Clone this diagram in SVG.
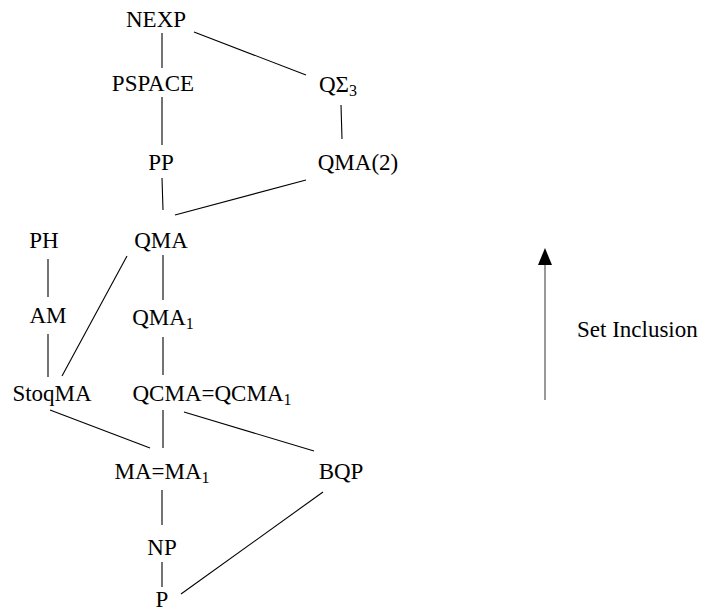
<svg xmlns="http://www.w3.org/2000/svg" width="714" height="612" viewBox="0 0 714 612">
<style>
text{font-size:23px;fill:#000;text-anchor:middle}
.sub{font-size:16px}
.e{stroke:#000;stroke-width:1.1;fill:none}
</style>
<rect width="714" height="612" fill="#fff"/>
<g id="connectors">
<line class="e" x1="162" y1="33" x2="162" y2="68"/>
<line class="e" x1="194" y1="32" x2="306" y2="75"/>
<line class="e" x1="162" y1="97" x2="162" y2="145"/>
<line class="e" x1="341" y1="105" x2="342" y2="139"/>
<line class="e" x1="306" y1="180" x2="175" y2="215"/>
<line class="e" x1="162" y1="178" x2="163" y2="210"/>
<line class="e" x1="48" y1="259" x2="48" y2="297"/>
<line class="e" x1="163" y1="255" x2="163" y2="300"/>
<line class="e" x1="127" y1="256" x2="62" y2="376"/>
<line class="e" x1="48" y1="334" x2="48" y2="377"/>
<line class="e" x1="163" y1="337" x2="163" y2="375"/>
<line class="e" x1="50" y1="410" x2="150" y2="448"/>
<line class="e" x1="163" y1="410" x2="163" y2="448"/>
<line class="e" x1="184" y1="412" x2="314" y2="451"/>
<line class="e" x1="162" y1="490" x2="162" y2="525"/>
<line class="e" x1="162" y1="562" x2="162" y2="587"/>
<line class="e" x1="323" y1="492" x2="181" y2="594"/>
</g>
<g font-family="Liberation Serif, Times New Roman, DejaVu Serif, serif">
<g id="n-nexp"><text x="156" y="27">NEXP</text></g>
<g id="n-pspace"><text x="153" y="91">PSPACE</text></g>
<g id="n-qsigma3"><text x="338" y="92">QΣ<tspan class="sub" dy="4">3</tspan></text></g>
<g id="n-pp"><text x="161" y="170">PP</text></g>
<g id="n-qma2"><text x="358" y="170">QMA(2)</text></g>
<g id="n-ph"><text x="44" y="248">PH</text></g>
<g id="n-qma"><text x="161" y="248">QMA</text></g>
<g id="n-am"><text x="48" y="323">AM</text></g>
<g id="n-qma1"><text x="163" y="325">QMA<tspan class="sub" dy="4">1</tspan></text></g>
<g id="n-stoqma"><text x="52" y="401">StoqMA</text></g>
<g id="n-qcma"><text x="212" y="401">QCMA=QCMA<tspan class="sub" dy="4">1</tspan></text></g>
<g id="n-ma"><text x="162" y="479">MA=MA<tspan class="sub" dy="4">1</tspan></text></g>
<g id="n-bqp"><text x="341" y="479">BQP</text></g>
<g id="n-np"><text x="162" y="555">NP</text></g>
<g id="n-p"><text x="162" y="607">P</text></g>
<g id="legend">
<line x1="545" y1="400" x2="545" y2="262" stroke="#555" stroke-width="1.2"/>
<path d="M545,248 L538,265 L552,265 Z" fill="#000"/>
<text x="577" y="337" style="text-anchor:start">Set Inclusion</text>
</g>
</g>
</svg>
